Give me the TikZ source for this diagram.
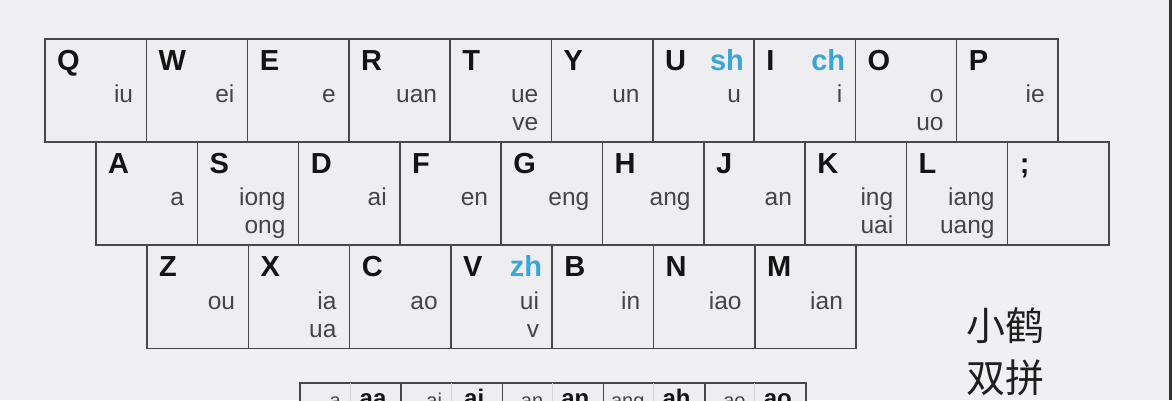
\documentclass[tikz,border=0pt]{standalone}
\usepackage{fontspec}
\setmainfont{Liberation Sans}
\newfontfamily\cjk{Noto Sans CJK SC}
\definecolor{bgcol}{HTML}{F0EFF1}
\definecolor{keyfill}{HTML}{EEEDF0}
\definecolor{keyline}{HTML}{474747}
\definecolor{subgray}{HTML}{454545}
\definecolor{shblue}{HTML}{3AA6D6}
\definecolor{barcol}{HTML}{333333}
\tikzset{
  keybox/.style={draw=keyline, line width=1.5pt, fill=keyfill, minimum width=101.3pt, minimum height=103pt, inner sep=0pt, outer sep=0pt, anchor=north west},
  keyletter/.style={font=\bfseries\fontsize{29}{29}\selectfont, text=black!92, anchor=base west, inner sep=0pt},
  keysub/.style={font=\fontsize{24.5}{25}\selectfont, text=subgray, anchor=base east, inner sep=0pt},
  keyblue/.style={font=\bfseries\fontsize{29}{29}\selectfont, text=shblue, anchor=base east, inner sep=0pt},
  botsmall/.style={font=\fontsize{20}{20}\selectfont, text=subgray, anchor=base east, inner sep=0pt},
  botbold/.style={font=\bfseries\fontsize{24}{24}\selectfont, text=black!92, anchor=base, inner sep=0pt},
  divline/.style={draw=gray!35, line width=0.8pt},
  cjktext/.style={font=\cjk\fontsize{39}{40}\selectfont, text=black!88, anchor=west, inner sep=0pt}
}
\newcommand\keyrow[4]{%
  \foreach \ltr/\ka/\kb/\kc [count=\i from 0] in {#4} {
    \node[keybox] (#1k\i) at ({#2+101.3*\i},#3) {};
    \node[keyletter] (#1l\i) at ([xshift=12pt,yshift=-31pt]#1k\i.north west) {\ltr};
    \ifx\ka\empty\else
      \node[keysub] (#1a\i) at ([xshift=-13pt,yshift=-63.5pt]#1k\i.north east) {\ka};
    \fi
    \ifx\kb\empty\else
      \node[keysub] (#1b\i) at ([xshift=-13pt,yshift=-91.5pt]#1k\i.north east) {\kb};
    \fi
    \ifx\kc\empty\else
      \node[keyblue] (#1c\i) at ([xshift=-10pt,yshift=-31pt]#1k\i.north east) {\kc};
    \fi
  }%
}
\begin{document}
\begin{tikzpicture}[x=1pt,y=-1pt]
\useasboundingbox (0,0) rectangle (1172,400);
\clip (0,0) rectangle (1172,400);
\fill[bgcol] (0,0) rectangle (1172,400);
\fill[barcol] (1168.5,0) rectangle (1172,400);

\keyrow{ra}{45}{39}{Q/iu//, W/ei//, E/e//, R/uan//, T/ue/ve/, Y/un//, U/u//sh, I/i//ch, O/o/uo/, P/ie//}
\keyrow{rb}{96}{142}{A/a//, S/iong/ong/, D/ai//, F/en//, G/eng//, H/ang//, J/an//, K/ing/uai/, L/iang/uang/, ;///}
\keyrow{rc}{147}{245.5}{Z/ou//, X/ia/ua/, C/ao//, V/ui/v/zh, B/in//, N/iao//, M/ian//}

% bottom row (cut off by the picture edge, as in the reference)
\foreach \sm/\bd [count=\i from 0] in {a/aa, ai/ai, an/an, ang/ah, ao/ao} {
  \node[keybox] (bot\i) at ({300+101.2*\i},383) {};
  \draw[divline] ([xshift=50pt]bot\i.north west) -- ([xshift=50pt]bot\i.south west);
  \node[botsmall] (bots\i) at ([xshift=41pt,yshift=-24pt]bot\i.north west) {\sm};
  \node[botbold] (botb\i) at ([xshift=73pt,yshift=-23pt]bot\i.north west) {\bd};
}

\node[cjktext] (title1) at (966,326) {小鹤};
\node[cjktext] (title2) at (966,378) {双拼};
\end{tikzpicture}
\end{document}
